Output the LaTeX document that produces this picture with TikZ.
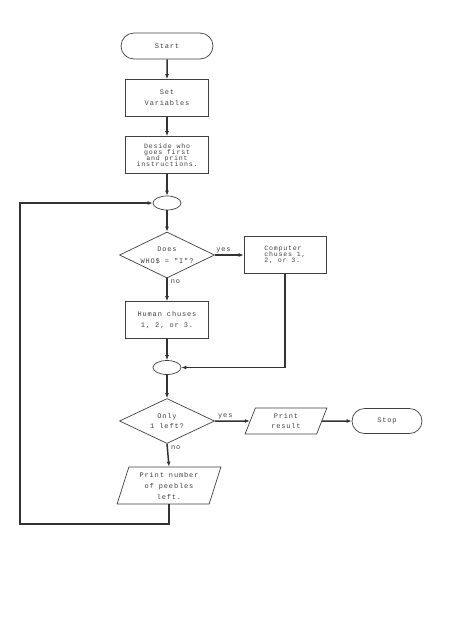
\documentclass[tikz,border=0pt]{standalone}
\usepackage{fontspec}
\setmonofont{Liberation Mono}[LetterSpace=12]
\usepackage{tikz}
\usetikzlibrary{shapes.geometric, shapes.misc, arrows.meta}

\newcommand{\dottext}{\ttfamily\fontsize{7}{11}\selectfont}
\newcommand{\tighttext}{\ttfamily\fontsize{6.6}{6.2}\selectfont\lineskiplimit=-10pt}

\begin{document}
\begin{tikzpicture}[x=1pt,y=-1pt,>={Latex[length=5pt,width=4pt]},
    box/.style={draw=black!75, line width=0.7pt, text=black!75, font=\dottext, align=center, inner sep=1pt},
    process/.style={box, rectangle, minimum width=83pt, minimum height=37pt},
    terminal/.style={box, rounded rectangle, minimum height=26pt},
    decision/.style={box, diamond, aspect=2, minimum width=95pt, minimum height=46pt, inner sep=0pt},
    inout/.style={box, trapezium, trapezium left angle=73, trapezium right angle=107, trapezium stretches=true},
    joint/.style={draw=black!75, line width=0.7pt, ellipse, minimum width=28pt, minimum height=14pt, inner sep=0pt},
    flow/.style={draw=black!80, line width=1.5pt, ->},
    answer/.style={text=black!75, font=\dottext, inner sep=1pt}]
    \useasboundingbox (0,0) rectangle (450,630);

    % draw the main column
    \node[terminal, minimum width=94pt] (start) at (167,46) {Start};
    \node[process] (setvar) at (167,98) {Set\\Variables};
    \node[process, font=\tighttext] (decide) at (167,155) {Deside who\\goes first\\and print\\instructions.};
    \node[joint] (join1) at (167,203) {};
    \node[decision, font=\ttfamily\fontsize{7}{12}\selectfont] (whoq) at (167,255) {Does\\WHO\$ = "I"?};
    \node[process] (human) at (167,320) {Human chuses\\1, 2, or 3.};
    \node[joint] (join2) at (167,367.5) {};
    \node[decision, minimum height=45pt, font=\ttfamily\fontsize{7}{9.5}\selectfont] (leftq) at (167,421) {Only\\1 left?};
    \node[inout, minimum width=104pt, minimum height=37pt] (pebbles) at (169,485.5) {Print number\\of peebles\\left.};

    % draw the right side
    \node[process, minimum width=82pt, font=\tighttext, align=left] (comp) at (285,255) {Computer\\chuses 1,\\2, or 3.};
    \node[inout, minimum width=82pt, minimum height=26pt, font=\ttfamily\fontsize{7}{10}\selectfont] (result) at (286,421) {Print\\result};
    \node[terminal, minimum width=72pt, minimum height=25pt] (stop) at (387,421) {Stop};

    % corners of the loop
    \coordinate (loopbl) at (20,524);

    % draw the arrows
    \draw[flow] (start) -- (setvar);
    \draw[flow] (setvar) -- (decide);
    \draw[flow] (decide) -- (join1);
    \draw[flow] (join1) -- (whoq);
    \draw[flow] (whoq.east) -- node[answer, above, pos=0.3] (yes1) {yes} (comp.west);
    \draw[flow] (whoq.south) -- node[answer, right=2pt, pos=0.15] (no1) {no} (human.north);
    \draw[flow] (human) -- (join2);
    \draw[flow] (comp.south) |- (join2.east);
    \draw[flow] (join2) -- (leftq);
    \draw[flow] (leftq.east) -- node[answer, above, pos=0.3] (yes2) {yes} (result.west);
    \draw[flow] (result.east) -- (stop.west);
    \draw[flow] (leftq.south) -- node[answer, right=2pt, pos=0.15] (no2) {no} (pebbles.north);

    % loop back to the top
    \draw[flow] (pebbles.south) |- (loopbl) |- (join1.west);
\end{tikzpicture}
\end{document}
